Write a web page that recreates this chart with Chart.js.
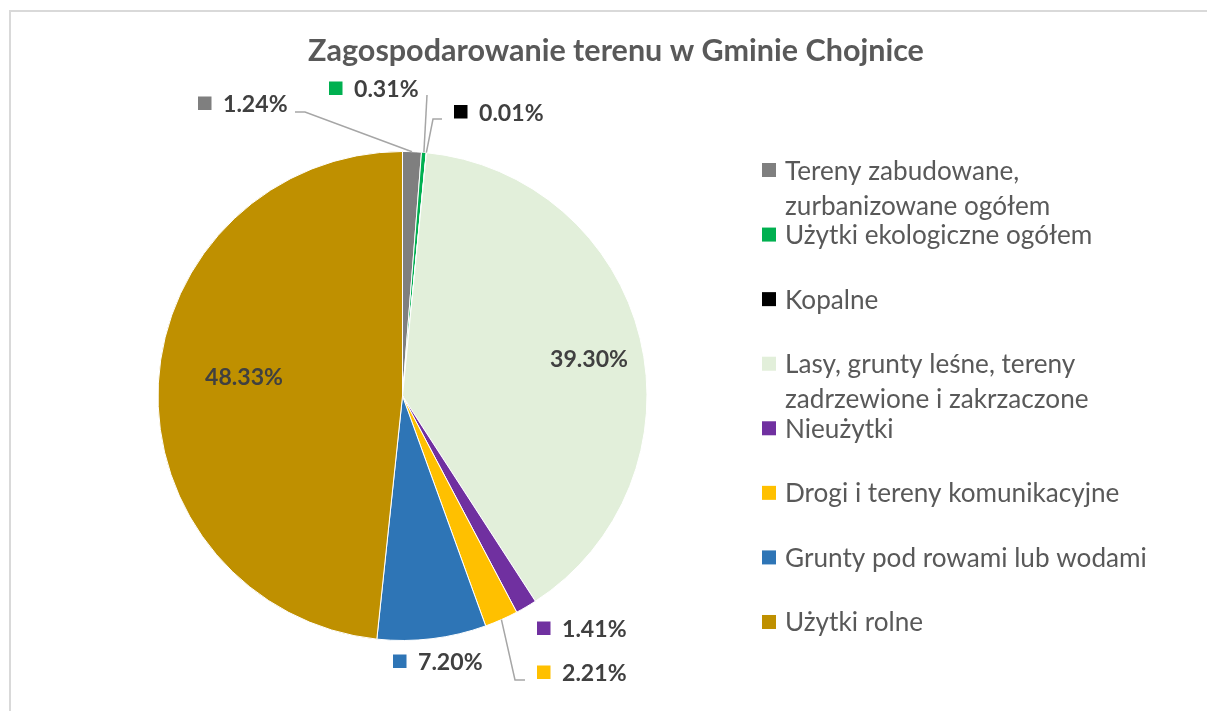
<!DOCTYPE html>
<html><head><meta charset="utf-8">
<script src="https://cdn.jsdelivr.net/npm/chart.js@4/dist/chart.umd.min.js"></script>
<style>html,body{margin:0;padding:0;background:#fff}canvas{display:block}</style>
</head><body>
<canvas id="c" width="1207" height="711"></canvas>
<script>
// ---- data ----
const chartTitle = 'Zagospodarowanie terenu w Gminie Chojnice';
const categories = [
  ['Tereny zabudowane,', 'zurbanizowane ogółem'],
  ['Użytki ekologiczne ogółem'],
  ['Kopalne'],
  ['Lasy, grunty leśne, tereny', 'zadrzewione i zakrzaczone'],
  ['Nieużytki'],
  ['Drogi i tereny komunikacyjne'],
  ['Grunty pod rowami lub wodami'],
  ['Użytki rolne']
];
const shares = [1.24, 0.31, 0.01, 39.30, 1.41, 2.21, 7.20, 48.33];
const sliceColors = ['#7F7F7F', '#00B050', '#000000', '#E2EFDA', '#7030A0', '#FFC000', '#2E75B6', '#BF9000'];

// ---- layout (positions / styles only) ----
const FONT = 'Lato, "Open Sans", sans-serif';
const labelLayout = [
  {marker: true, x: 198, y: 103.5, leader: [[305, 112], [295, 112]]},
  {marker: true, x: 329, y: 88.5, leader: [[427, 95]]},
  {marker: true, x: 454, y: 112, leader: [[433, 119], [442, 119]]},
  {marker: false, cx: 589, cy: 358},
  {marker: true, x: 537, y: 628.5},
  {marker: true, x: 537, y: 672.5, leader: [[515, 680], [525, 680]]},
  {marker: true, x: 393, y: 661.5},
  {marker: false, cx: 244, cy: 376}
];
const legendX = 762, legendTextX = 785, legendY0 = 170, legendStep = 64.57, legendLine = 35;

function fitSize(ctx, text, weight, target) {
  ctx.font = weight + ' 100px ' + FONT;
  return 100 * target / ctx.measureText(text).width;
}
function capH(ctx) { return ctx.measureText('H').actualBoundingBoxAscent; }

const decor = {
  id: 'decor',
  beforeDraw(chart) {
    const ctx = chart.ctx;
    ctx.save();
    ctx.fillStyle = '#D9D9D9';
    ctx.fillRect(9, 10, 2, 711);
    ctx.fillRect(9, 10, 1207, 2);
    ctx.restore();
  },
  afterDraw(chart) {
    const ctx = chart.ctx;
    const meta = chart.getDatasetMeta(0);
    ctx.save();
    // title
    let s = fitSize(ctx, chartTitle, 'bold', 616);
    ctx.font = 'bold ' + s + 'px ' + FONT;
    ctx.fillStyle = '#595959';
    ctx.textAlign = 'center';
    ctx.textBaseline = 'alphabetic';
    ctx.fillText(chartTitle, 616, 50 + capH(ctx) / 2);

    // legend
    s = fitSize(ctx, 'Grunty pod rowami lub wodami', 'normal', 362);
    ctx.font = s + 'px ' + FONT;
    ctx.textAlign = 'left';
    let ch = capH(ctx);
    chart.data.labels.forEach((lines, i) => {
      const y = legendY0 + i * legendStep;
      ctx.fillStyle = sliceColors[i];
      ctx.fillRect(legendX, y - 7, 14, 14);
      ctx.fillStyle = '#595959';
      lines.forEach((ln, k) => ctx.fillText(ln, legendTextX, y + k * legendLine + ch / 2));
    });

    // data labels
    s = fitSize(ctx, '48.33%', 'bold', 78);
    ctx.font = 'bold ' + s + 'px ' + FONT;
    ch = capH(ctx);
    ctx.strokeStyle = '#A6A6A6';
    ctx.lineWidth = 1.5;
    meta.data.forEach((arc, i) => {
      const L = labelLayout[i];
      const txt = chart.data.datasets[0].data[i].toFixed(2) + '%';
      if (L.leader) {
        const p = arc.getProps(['x', 'y', 'startAngle', 'endAngle', 'outerRadius'], true);
        const a = (p.startAngle + p.endAngle) / 2;
        ctx.beginPath();
        ctx.moveTo(p.x + Math.cos(a) * p.outerRadius, p.y + Math.sin(a) * p.outerRadius);
        L.leader.forEach(pt => ctx.lineTo(pt[0], pt[1]));
        ctx.stroke();
      }
      ctx.fillStyle = '#404040';
      if (L.marker) {
        ctx.textAlign = 'left';
        ctx.fillText(txt, L.x + 25, L.y + ch / 2);
        ctx.fillStyle = sliceColors[i];
        ctx.fillRect(L.x, L.y - 7, 13.5, 13.5);
      } else {
        ctx.textAlign = 'center';
        ctx.fillText(txt, L.cx, L.cy + ch / 2);
      }
    });
    ctx.restore();
  }
};

new Chart(document.getElementById('c'), {
  type: 'pie',
  data: {
    labels: categories,
    datasets: [{
      data: shares,
      backgroundColor: sliceColors,
      borderColor: '#FFFFFF',
      borderWidth: 1,
      hoverOffset: 0,
      offset: 0
    }]
  },
  options: {
    responsive: false,
    animation: false,
    events: [],
    layout: {padding: {left: 157.5, right: 559.5, top: 151, bottom: 70}},
    plugins: {legend: {display: false}, title: {display: false}, tooltip: {enabled: false}}
  },
  plugins: [decor]
});
</script>
</body></html>
